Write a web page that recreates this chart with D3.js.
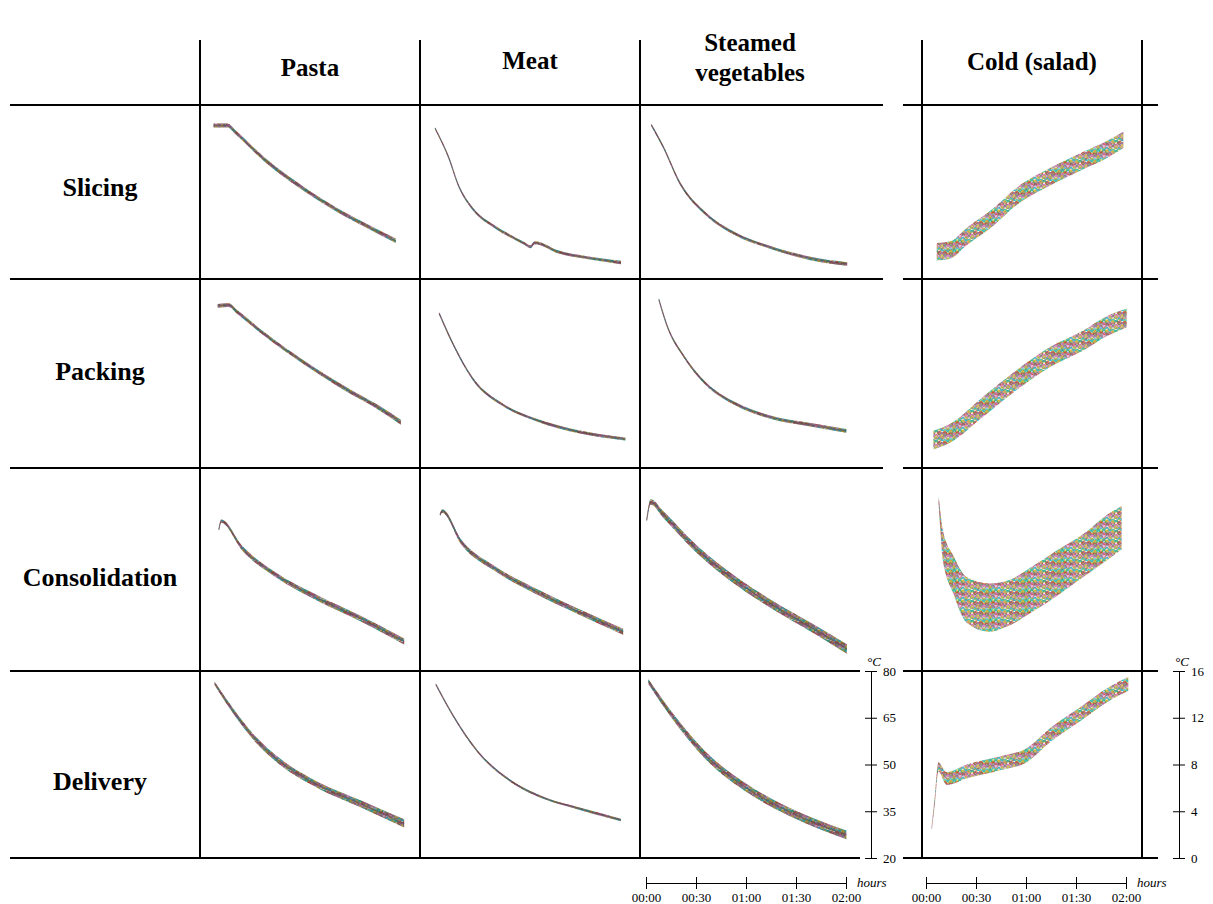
<!DOCTYPE html>
<html>
<head>
<meta charset="utf-8">
<script src="https://cdn.jsdelivr.net/npm/d3@7"></script>
<style>
  body{margin:0;background:#fff;}
  svg{display:block;font-family:"Liberation Serif","Times New Roman",serif;}
</style>
</head>
<body>
<div id="chart"></div>
<script>
// table headers
const products = ['Pasta', 'Meat', 'Steamed vegetables', 'Cold (salad)'];
const stages = ['Slicing', 'Packing', 'Consolidation', 'Delivery'];

// axis ticks
const hotTicks = [20, 35, 50, 65, 80];
const coldTicks = [0, 4, 8, 12, 16];
const timeTicks = [0, 30, 60, 90, 120]; // minutes

// temperature runs: [minutes, °C, half width of the bundle in °C]
const pastaSlicing = [[4.5,72.9,.7],[12.8,72.9,.7],[18,70.4,.7],[34.3,61.6,.7],[59.6,50.7,.7],[82.3,42.6,.7],[97.4,38.0,.7],[113.9,33.2,.8]];
const meatSlicing = [[5.4,72.0,.35],[13.4,62.2,.4],[19.8,51.8,.4],[28.6,43.8,.45],[41.2,38.0,.5],[58.9,32.3,.5],[62.7,31.1,.5],[65.2,32.5,.5],[79.1,29.4,.5],[99.4,27.1,.5],[117,25.7,.6]];
const vegSlicing = [[3.2,73.1,.4],[10.3,65.6,.45],[20.4,53.0,.5],[35.6,42.6,.5],[53.2,35.7,.5],[73.4,31.1,.5],[98.7,27.1,.6],[120.7,25.2,.6]];

const pastaPacking = [[7.0,71.5,.6],[13.6,71.7,.6],[18.6,69.6,.6],[34.3,62.8,.6],[59.6,53.2,.6],[84.8,44.8,.7],[102.5,39.5,.7],[116.9,34.5,.8]];
const meatPacking = [[7.9,69.1,.35],[16.0,59.6,.4],[28.6,47.9,.4],[46.3,40.0,.4],[66.5,35.2,.45],[91.7,31.5,.5],[119.6,29.2,.5]];
const vegPacking = [[7.7,73.5,.35],[12.8,64.9,.4],[22.9,55.3,.45],[35.6,46.9,.5],[53.2,40.5,.5],[73.4,36.3,.5],[98.7,33.7,.55],[120.2,31.8,.6]];

const pastaConsol = [[7.7,61.7,.3],[9.1,64.3,.5],[21.7,56.3,.7],[41.9,48.4,.7],[67.1,41.5,.8],[92.4,35.6,.8],[118.9,28.7,.9]];
const meatConsol = [[8.4,66.1,.3],[9.7,67.3,.5],[21.1,58.2,.7],[41.2,50.3,.7],[66.5,43.4,.8],[91.7,37.5,.8],[118.3,31.6,.9]];
const vegConsol = [[0.4,64.5,.4],[2.8,70.0,.8],[10.3,66.3,1.0],[30.5,56.0,1.1],[55.8,46.0,1.2],[81.1,38.0,1.2],[101.2,32.3,1.3],[120.5,26.5,1.4]];

const pastaDelivery = [[5.2,76.0,.6],[16.6,66.9,.8],[29.2,58.4,.9],[44.4,50.9,1.0],[67.1,43.4,1.0],[92.4,37.5,1.1],[118.9,31.1,1.3]];
const meatDelivery = [[5.9,75.7,.3],[16.0,65.9,.3],[31.1,54.1,.35],[51.4,44.5,.35],[71.6,39.1,.35],[91.7,35.9,.4],[117,32.2,.4]];
const vegDelivery = [[1.4,76.6,.8],[15.4,65.9,1.0],[35.6,53.0,1.2],[60.8,42.3,1.3],[86.1,34.8,1.3],[120.2,27.4,1.4]];

const coldSlicing = [[6.4,2.5,.8],[14.4,2.66,.8],[24.4,3.9,.8],[40.4,5.7,.8],[54.4,7.6,.8],[74.4,9.4,.8],[94.4,10.9,.8],[108.4,11.9,.8],[118.4,12.8,.75]];
const coldPacking = [[4.4,2.36,.8],[14.4,2.93,.8],[34.4,5.2,.85],[54.4,7.45,.85],[74.4,9.4,.85],[94.4,10.8,.85],[108.4,12.0,.85],[120.4,12.7,.8]];
const coldConsol = [[7.6,13.5,.3],[8.5,12.0,.7],[10,10.0,1.2],[16.4,7.6,1.5],[24.4,5.6,1.8],[38,5.0,1.9],[50.4,5.4,1.8],[64.4,6.5,1.8],[78.4,7.7,1.8],[94.4,9.1,1.7],[108.4,10.5,1.8],[117.4,11.3,1.7]];
const coldDelivery = [[3.4,2.5,.1],[5.4,5.1,.3],[7.4,7.8,.4],[12.4,6.8,.55],[24.4,7.4,.6],[44.4,8.1,.6],[60.4,8.8,.6],[74.4,10.5,.6],[94.4,12.5,.6],[108.4,13.9,.6],[121.4,14.9,.6]];

// stage x product
const runs = [
  [pastaSlicing, meatSlicing, vegSlicing, coldSlicing],
  [pastaPacking, meatPacking, vegPacking, coldPacking],
  [pastaConsol, meatConsol, vegConsol, coldConsol],
  [pastaDelivery, meatDelivery, vegDelivery, coldDelivery]
];

// layout
const width = 1213, height = 904;
const rowEdges = [105, 279, 468, 671, 858];
const colEdges = [200, 420, 640, 922];   // left edge of each product column
const colWidth = 220;
const rowLabelY = [187, 371, 577, 781];
const headerY = [67, 60, 57, 61];
const hotAxisX = 871, coldAxisX = 1179, timeAxisY = 883;

const svg = d3.select('#chart').append('svg')
    .attr('width', width)
    .attr('height', height);

// jagged multicoloured texture standing in for the many overlaid runs
// (fixed wiggle offsets, purely decorative)
const wiggle = [0, 2.5, -1.5, 3, -2.5, 1, -3, 2, -0.5, 3, -2, 1.5];
const tileW = wiggle.length * 3, tileH = 10;
const pat = svg.append('defs').append('pattern')
    .attr('id', 'runs')
    .attr('patternUnits', 'userSpaceOnUse')
    .attr('width', tileW).attr('height', tileH);
d3.schemeCategory10.forEach((c, i) => {
    const shift = (i * 5) % wiggle.length;
    const amp = 0.7 + (i % 3) * 0.3;
    [-tileH, 0, tileH].forEach(off => {
        const pts = d3.range(wiggle.length + 1).map(k =>
            [k * 3, i + 0.5 + off + amp * wiggle[(k + shift) % wiggle.length]]);
        pat.append('path')
            .attr('d', d3.line()(pts))
            .attr('fill', 'none')
            .attr('stroke', c)
            .attr('stroke-width', 1.1)
            .attr('stroke-opacity', 0.85);
    });
});

// scales for one cell
function cellScales(r, c){
    const left = colEdges[c];
    const cold = c === 3;
    const x = d3.scaleLinear([0, 120], cold ? [left + 4, left + 204] : [left + 6, left + 206]);
    const y = d3.scaleLinear(cold ? [0, 16] : [20, 80], [rowEdges[r + 1], rowEdges[r]]);
    return {x, y, cold};
}

// curves
const plots = svg.append('g').classed('plots', true);
runs.forEach((row, r) => {
    row.forEach((data, c) => {
        const {x, y, cold} = cellScales(r, c);
        const g = plots.append('g');
        const curve = d3.curveMonotoneX;
        const band = d3.area()
            .x(d => x(d[0]))
            .y0(d => y(d[1] - d[2]))
            .y1(d => y(d[1] + d[2]))
            .curve(curve);
        g.append('path')
            .datum(data)
            .attr('fill', 'url(#runs)')
            .attr('fill-opacity', cold ? 0.9 : 1)
            .attr('d', band);
        if(!cold){
            // hot bundles are tight, so they read darker
            g.append('path')
                .datum(data)
                .attr('fill', '#4a3a48')
                .attr('fill-opacity', 0.3)
                .attr('d', band);
        }
        g.append('path')
            .datum(data)
            .attr('fill', 'none')
            .attr('stroke', cold ? '#8a4a60' : '#5e4a58')
            .attr('stroke-opacity', cold ? 0.3 : 0.6)
            .attr('stroke-width', cold ? 1 : 1.4)
            .attr('d', d3.line()
                .x(d => x(d[0]))
                .y(d => y(d[1]))
                .curve(curve));
    });
});

// table rules
const rules = svg.append('g').attr('stroke', '#000').attr('stroke-width', 2);
rowEdges.forEach((yy, i) => {
    rules.append('line').attr('x1', 10).attr('x2', i < 3 ? 883 : 860).attr('y1', yy).attr('y2', yy);
    rules.append('line').attr('x1', 903).attr('x2', 1158).attr('y1', yy).attr('y2', yy);
});
[200, 420, 640, 922, 1142].forEach(xx => {
    rules.append('line').attr('x1', xx).attr('x2', xx).attr('y1', 40).attr('y2', 858);
});

// headers
const heads = svg.append('g')
    .attr('font-weight', 'bold')
    .attr('font-size', 25)
    .attr('text-anchor', 'middle');
products.forEach((p, i) => {
    const t = heads.append('text')
        .attr('x', colEdges[i] + colWidth / 2)
        .attr('y', headerY[i])
        .attr('dy', '0.35em');
    if(p === 'Steamed vegetables'){
        t.append('tspan').attr('x', colEdges[i] + colWidth / 2).attr('dy', '-0.25em').text('Steamed');
        t.append('tspan').attr('x', colEdges[i] + colWidth / 2).attr('dy', '1.2em').text('vegetables');
    } else {
        t.text(p);
    }
});
stages.forEach((s, i) => {
    heads.append('text')
        .attr('x', 100)
        .attr('y', rowLabelY[i])
        .attr('dy', '0.35em')
        .attr('font-size', 26)
        .text(s);
});

// axes, drawn once next to the delivery row
function crossTicks(g, dir){
    g.attr('font-family', null).attr('font-size', 13);
    g.selectAll('.tick line').attr(dir + '1', -6).attr(dir + '2', 6);
    g.select('.domain').attr('stroke-width', 1);
}
const fmt = m => d3.format('02')(Math.floor(m / 60)) + ':' + d3.format('02')(m % 60);

[[2, hotAxisX, hotTicks], [3, coldAxisX, coldTicks]].forEach(([c, ax, ticks]) => {
    const {x, y} = cellScales(3, c);
    const gy = svg.append('g')
        .attr('transform', `translate(${ax},0)`)
        .call(d3.axisRight(y).tickValues(ticks).tickSize(6).tickSizeOuter(0).tickPadding(6))
        .call(g => crossTicks(g, 'x'));
    gy.append('text')
        .attr('x', -4).attr('y', rowEdges[3] - 5)
        .attr('fill', '#000').attr('font-style', 'italic')
        .attr('text-anchor', 'start')
        .text('°C');

    const gx = svg.append('g')
        .attr('transform', `translate(0,${timeAxisY})`)
        .call(d3.axisBottom(x).tickValues(timeTicks).tickFormat(fmt).tickSize(6).tickSizeOuter(0).tickPadding(4))
        .call(g => crossTicks(g, 'y'));
    gx.append('text')
        .attr('x', x(120) + 11).attr('y', 4)
        .attr('fill', '#000').attr('font-style', 'italic')
        .attr('text-anchor', 'start')
        .text('hours');
});
</script>
</body>
</html>
